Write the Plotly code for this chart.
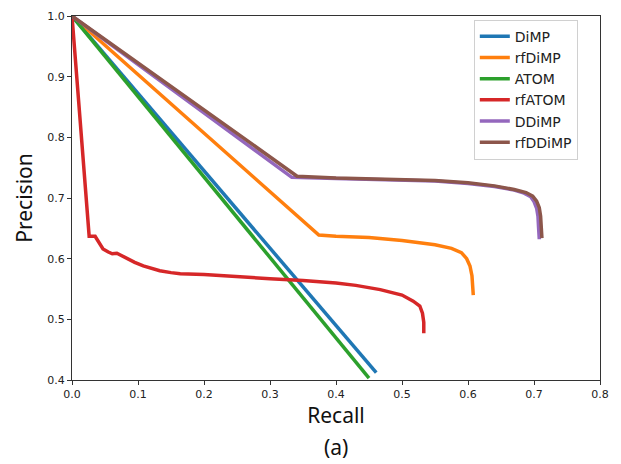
import plotly.graph_objects as go

# ---- data ----
dimp_recall = [0.0, 0.461]
dimp_precision = [1.0, 0.412]

atom_recall = [0.0, 0.450]
atom_precision = [1.0, 0.403]

rfdimp_recall = [0.0, 0.374, 0.40, 0.45, 0.50, 0.55, 0.575, 0.59, 0.598, 0.603, 0.606, 0.607, 0.608]
rfdimp_precision = [1.0, 0.639, 0.637, 0.635, 0.630, 0.623, 0.617, 0.610, 0.600, 0.588, 0.572, 0.555, 0.540]

rfatom_recall = [0.0, 0.026, 0.035, 0.042, 0.047, 0.055, 0.061, 0.068, 0.075, 0.083, 0.095,
                 0.108, 0.12, 0.133, 0.15, 0.164, 0.2, 0.25, 0.3, 0.35, 0.4, 0.43, 0.467,
                 0.5, 0.517, 0.527, 0.531, 0.533, 0.533]
rfatom_precision = [1.0, 0.637, 0.637, 0.625, 0.616, 0.611, 0.608, 0.609, 0.605, 0.600, 0.594,
                    0.588, 0.584, 0.580, 0.577, 0.575, 0.574, 0.570, 0.567, 0.564, 0.560, 0.556, 0.549,
                    0.540, 0.530, 0.522, 0.510, 0.495, 0.477]

ddimp_recall = [0.0, 0.333, 0.40, 0.45, 0.50, 0.55, 0.60, 0.64, 0.67, 0.685, 0.695, 0.700, 0.704, 0.706, 0.707, 0.708]
ddimp_precision = [1.0, 0.734, 0.732, 0.731, 0.730, 0.728, 0.724, 0.719, 0.713, 0.708, 0.702, 0.694, 0.683, 0.670, 0.650, 0.632]

rfddimp_recall = [0.0, 0.341, 0.40, 0.45, 0.50, 0.55, 0.60, 0.64, 0.67, 0.688, 0.698, 0.704, 0.708, 0.710, 0.711, 0.712]
rfddimp_precision = [1.0, 0.736, 0.733, 0.732, 0.731, 0.729, 0.725, 0.720, 0.714, 0.709, 0.703, 0.695, 0.684, 0.670, 0.652, 0.634]

x_ticks = [0.0, 0.1, 0.2, 0.3, 0.4, 0.5, 0.6, 0.7, 0.8]
y_ticks = [0.4, 0.5, 0.6, 0.7, 0.8, 0.9, 1.0]

series = [
    ("DiMP", dimp_recall, dimp_precision, "#1f77b4"),
    ("rfDiMP", rfdimp_recall, rfdimp_precision, "#ff7f0e"),
    ("ATOM", atom_recall, atom_precision, "#2ca02c"),
    ("rfATOM", rfatom_recall, rfatom_precision, "#d62728"),
    ("DDiMP", ddimp_recall, ddimp_precision, "#9467bd"),
    ("rfDDiMP", rfddimp_recall, rfddimp_precision, "#8c564b"),
]

fig = go.Figure()
for name, xs, ys, col in series:
    fig.add_trace(go.Scatter(x=xs, y=ys, mode="lines", name=name,
                             line=dict(color=col, width=3.5)))

tick_font = dict(family="DejaVu Sans", size=11, color="#222")
fig.update_xaxes(range=[0, 0.8], tickvals=x_ticks, ticktext=[f"{v:.1f}" for v in x_ticks],
                 showgrid=False, zeroline=False, showline=True, linecolor="#333", linewidth=1,
                 mirror=True, ticks="outside", ticklen=4, tickcolor="#333", tickfont=tick_font,
                 title=dict(text="Recall", font=dict(family="Noto Sans", size=21, color="#111"), standoff=3))
fig.update_yaxes(range=[0.4, 1.0], tickvals=y_ticks, ticktext=[f"{v:.1f}" for v in y_ticks],
                 showgrid=False, zeroline=False, showline=True, linecolor="#333", linewidth=1,
                 mirror=True, ticks="outside", ticklen=4, tickcolor="#333", tickfont=tick_font,
                 title=dict(text="Precision", font=dict(family="Noto Sans", size=21, color="#111"), standoff=8))

fig.update_layout(
    width=621, height=464,
    margin=dict(l=72, r=21, t=10, b=84),
    plot_bgcolor="white", paper_bgcolor="white",
    showlegend=True,
    legend=dict(x=0.761, y=0.99, xanchor="left", yanchor="top",
                bgcolor="white", bordercolor="#d0d0d0", borderwidth=1,
                font=dict(family="DejaVu Sans", size=14, color="#222")),
    annotations=[dict(text="(a)", x=0.5, y=-0.14, xref="paper", yref="paper",
                      xanchor="center", yanchor="top", showarrow=False,
                      font=dict(family="Noto Sans", size=21, color="#111"))],
)

fig.write_html("out.html")
